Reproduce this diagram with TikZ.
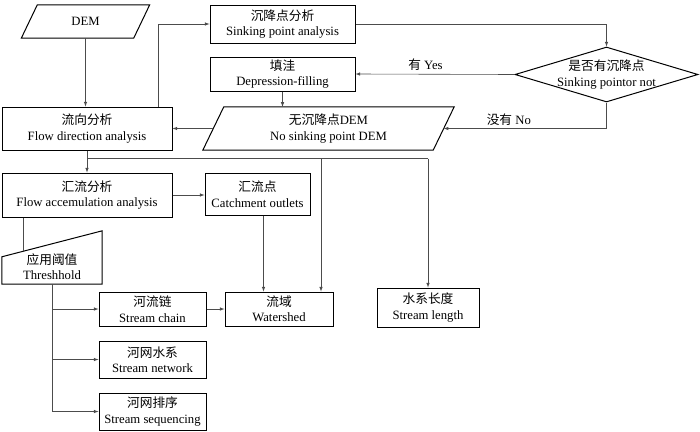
\documentclass[tikz,border=0pt]{standalone}
\usepackage{fontspec}
\setmainfont{Liberation Serif}
\newfontfamily\cjk{Noto Sans CJK SC}
\usetikzlibrary{calc}
\usetikzlibrary{shapes.geometric}

\begin{document}
\begin{tikzpicture}[>=latex,x=1pt,y=-1pt,
        txt/.style={align=center,inner sep=0pt,font=\fontsize{12.7}{15.5}\selectfont},
        box/.style={txt,draw,line width=1pt},
        conn/.style={line width=0.6pt,black!70}]
    \useasboundingbox (0,0) rectangle (700,431);
    % boxes
    \node[txt,minimum width=112,minimum height=33] (dem) at (85.5,21.5) {DEM};
    \draw[line width=1pt] ([xshift=8pt]dem.north west)--([xshift=8pt]dem.north east)--([xshift=-8pt]dem.south east)--([xshift=-8pt]dem.south west)--cycle;
    \node[box,minimum width=145,minimum height=38] (sink) at (282.5,24) {{\cjk 沉降点分析}\\Sinking point analysis};
    \node[box,minimum width=145,minimum height=34] (fill) at (282.5,74) {{\cjk 填洼}\\Depression-filling};
    \node[diamond,draw,line width=1pt,minimum width=183,minimum height=55,inner sep=0pt] (dia) at (606.5,74.5) {};
    \node[txt] (dialbl) at (dia) {{\cjk 是否有沉降点}\\Sinking pointor not};
    \node[txt,minimum width=230,minimum height=43] (nosink) at (328.5,128.5) {{\cjk 无沉降点}DEM\\No sinking point DEM};
    \draw[line width=1pt] ([xshift=10.5pt]nosink.north west)--([xshift=10.5pt]nosink.north east)--([xshift=-10.5pt]nosink.south east)--([xshift=-10.5pt]nosink.south west)--cycle;
    \node[box,minimum width=170,minimum height=43] (fdir) at (87,128.5) {{\cjk 流向分析}\\Flow direction analysis};
    \node[box,minimum width=170,minimum height=44] (acc) at (87,195) {{\cjk 汇流分析}\\Flow accemulation analysis};
    \node[box,minimum width=105,minimum height=42] (outlet) at (257.5,194) {{\cjk 汇流点}\\Catchment outlets};
    \node[txt,minimum width=100,minimum height=35] (thr) at (52,266.5) {{\cjk 应用阈值}\\Threshhold};
    \draw[line width=1pt] (thr.south west)--(thr.south east)--([yshift=18pt]thr.north east)--([yshift=-8pt]thr.north west)--cycle;
    \node[box,minimum width=107,minimum height=34] (chain) at (152.5,309) {{\cjk 河流链}\\Stream chain};
    \node[box,minimum width=108,minimum height=34] (shed) at (279,309) {{\cjk 流域}\\Watershed};
    \node[box,minimum width=102,minimum height=39] (slen) at (428,307.5) {{\cjk 水系长度}\\Stream length};
    \node[box,minimum width=107,minimum height=37] (net) at (152.5,359.5) {{\cjk 河网水系}\\Stream network};
    \node[box,minimum width=107,minimum height=37] (seq) at (152.5,411.5) {{\cjk 河网排序}\\Stream sequencing};
    % connectors
    \coordinate (fork) at ($(fdir.south)+(0,8)$);
    \coordinate (thrtop) at ($(thr.north west)+(21,2.5)$);
    \draw[conn,->](dem.south)--(dem.south |- fdir.north);
    \draw[conn,->]([xshift=71pt]fdir.north)|-(sink.west);
    \draw[conn,->](sink.east)-|(dia.north);
    \draw[conn,->](dia.west)--node[txt,black,above=3pt,pos=0.56]{{\cjk 有} Yes}(fill.east);
    \draw[conn,->](dia.south)|-node[txt,black,above=3pt,pos=0.8]{{\cjk 没有} No}(nosink.east);
    \draw[conn,->](fill.south)--(fill.south |- nosink.north);
    \draw[conn,->](nosink.west)--(fdir.east);
    \draw[conn,->](fdir.south)--(acc.north);
    \draw[conn](fork)--(fork -| slen.north);
    \draw[conn,->](fork -| slen.north)--(slen.north);
    \draw[conn,->]([xshift=42pt]shed.north |- fork)--([xshift=42pt]shed.north);
    \draw[conn,->](acc.east)--(acc.east -| outlet.west);
    \draw[conn,->]([xshift=6pt]outlet.south)--([xshift=6pt]outlet.south |- shed.north);
    \draw[conn](thrtop |- acc.south)--(thrtop);
    \draw[conn,->](thr.south)|-(seq.west);
    \draw[conn,->](thr.south |- chain.west)--(chain.west);
    \draw[conn,->](thr.south |- net.west)--(net.west);
    \draw[conn,->](chain.east)--(shed.west);
\end{tikzpicture}
\end{document}
